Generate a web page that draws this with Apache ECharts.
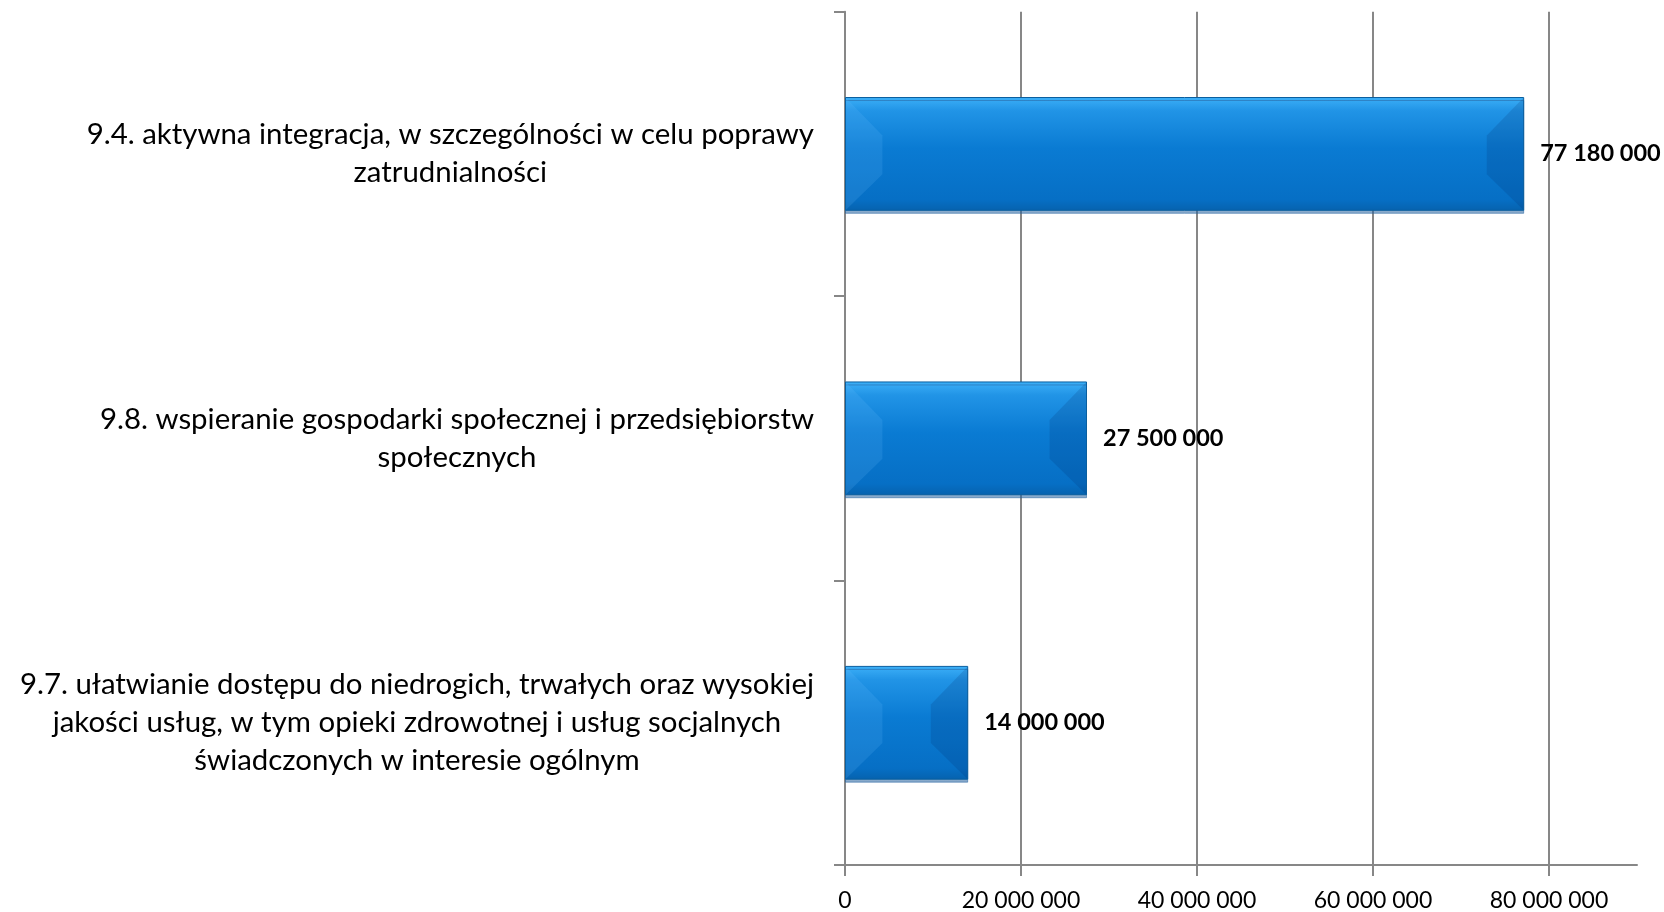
<!DOCTYPE html>
<html>
<head>
<meta charset="utf-8">
<script src="https://cdn.jsdelivr.net/npm/echarts@6/dist/echarts.min.js"></script>
<style>
html,body{margin:0;padding:0;background:#fff;}
#chart{width:1664px;height:912px;}
</style>
</head>
<body>
<div id="chart"></div>
<script>
const categories = [
  "9.4. aktywna integracja, w szczególności w celu poprawy\nzatrudnialności",
  "9.8. wspieranie gospodarki społecznej i przedsiębiorstw\nspołecznych",
  "9.7. ułatwianie dostępu do niedrogich, trwałych oraz wysokiej\njakości usług, w tym opieki zdrowotnej i usług socjalnych\nświadczonych w interesie ogólnym"
];
const values = [77180000, 27500000, 14000000];
const tickValues = [0, 20000000, 40000000, 60000000, 80000000];
const axisMax = 90000000;

function fmt(v) {
  return String(v).replace(/\B(?=(\d{3})+(?!\d))/g, ' ');
}

const chart = echarts.init(document.getElementById('chart'), null, {renderer: 'canvas'});
const FONT = 'Lato';
const BAR_RATIO = 0.4;
chart.setOption({
  animation: false,
  backgroundColor: '#ffffff',
  grid: {left: 845, top: 11.7, width: 792, bottom: 45.5},
  xAxis: {
    type: 'value',
    min: 0,
    max: axisMax,
    interval: 20000000,
    axisLine: {show: true, lineStyle: {color: '#878787', width: 2}},
    axisTick: {show: true, length: 11, customValues: tickValues, lineStyle: {color: '#878787', width: 2}},
    splitLine: {show: true, lineStyle: {color: '#878787', width: 2}},
    axisLabel: {
      customValues: tickValues,
      margin: 24,
      color: '#000',
      fontFamily: FONT,
      fontSize: 23,
      formatter: v => fmt(v)
    }
  },
  yAxis: {
    type: 'category',
    inverse: true,
    data: categories,
    axisLine: {show: true, lineStyle: {color: '#878787', width: 2}},
    axisTick: {show: true, length: 11, lineStyle: {color: '#878787', width: 2}},
    axisLabel: {
      margin: 31,
      color: '#000',
      fontFamily: FONT,
      fontSize: 29.4,
      lineHeight: 38,
      formatter: v => v.split('\n').map(l => '{c|' + l + '}').join('\n'),
      rich: {
        c: {align: 'center', fontFamily: FONT, fontSize: 29.4, lineHeight: 38, color: '#000'}
      }
    }
  },
  series: [{
    type: 'bar',
    data: values,
    barCategoryGap: '60%',
    z: 2,
    itemStyle: {
      color: new echarts.graphic.LinearGradient(0, 0, 0, 1, [
        {offset: 0, color: '#3db0f8'},
        {offset: 0.12, color: '#2194e6'},
        {offset: 0.45, color: '#0a7bd3'},
        {offset: 0.9, color: '#066fc5'},
        {offset: 1, color: '#0662ae'}
      ]),
      borderColor: '#0a5f9f',
      borderWidth: 1,
      shadowColor: 'rgba(40,100,160,0.55)',
      shadowOffsetY: 3,
      shadowOffsetX: 0,
      shadowBlur: 0
    },
    label: {
      show: true,
      position: 'right',
      distance: 16,
      color: '#000',
      fontFamily: FONT,
      fontWeight: 'bold',
      fontSize: 23.5,
      formatter: p => fmt(p.value)
    }
  }, {
    type: 'custom',
    z: 3,
    silent: true,
    encode: {x: 0, y: 1},
    data: values.map((v, i) => [v, i]),
    renderItem: function (params, api) {
      const v = api.value(0);
      const idx = api.value(1);
      const p0 = api.coord([0, idx]);
      const p1 = api.coord([v, idx]);
      const h = api.size([0, 1])[1] * BAR_RATIO;
      const top = p0[1] - h / 2 + 1, bot = p0[1] + h / 2 - 1;
      const d = Math.min(h * 0.32, (p1[0] - p0[0]) / 3);
      const x0 = p0[0] + 1, x1 = p1[0] - 1;
      return {
        type: 'group',
        children: [{
          type: 'polygon',
          shape: {points: [[x0, top], [x0 + d, top + h * 0.33], [x0 + d, top + h * 0.67], [x0, bot]]},
          style: {fill: 'rgba(110,190,255,0.16)'}
        }, {
          type: 'polygon',
          shape: {points: [[x1, top], [x1 - d, top + h * 0.33], [x1 - d, top + h * 0.67], [x1, bot]]},
          style: {fill: 'rgba(0,40,100,0.16)'}
        }]
      };
    }
  }]
});
</script>
</body>
</html>
